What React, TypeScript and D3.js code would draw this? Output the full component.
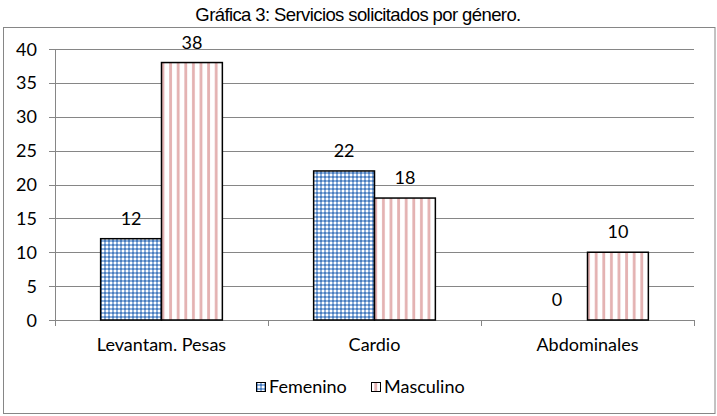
import React from "react";
import * as d3 from "d3";

const categories = ["Levantam. Pesas", "Cardio", "Abdominales"];
const seriesNames = ["Femenino", "Masculino"];
const femenino = [12, 22, 0];
const masculino = [38, 18, 10];
const yTicks = [0, 5, 10, 15, 20, 25, 30, 35, 40];
const title = "Gráfica 3: Servicios solicitados por género.";

const W = 717;
const H = 416;
const left = 55;
const right = 694;
const top = 49;
const bottom = 320;
const font = "Lato, 'Open Sans', sans-serif";
const fs = 18;

export default function App() {
  const x = d3.scaleBand<string>().domain(categories).range([left, right]).paddingInner(0).paddingOuter(0);
  const y = d3.scaleLinear().domain([0, 40]).range([bottom, top]);
  const inner = d3.scaleBand<string>().domain(seriesNames).range([0, x.bandwidth()]).paddingInner(0).paddingOuter(0.75);
  const values = [femenino, masculino];
  const fills = ["url(#checker)", "url(#stripes)"];

  return (
    <svg width={W} height={H} style={{ position: "absolute", left: 0, top: 0 }}>
      <defs>
        <pattern id="checker" width="4" height="4" patternUnits="userSpaceOnUse">
          <rect width="4" height="4" fill="#8fb0dc" />
          <rect width="2" height="2" fill="#4a7ebf" />
          <rect x="2" y="2" width="2" height="2" fill="#ffffff" />
        </pattern>
        <pattern id="stripes" width="7.6" height="8" patternUnits="userSpaceOnUse">
          <rect width="7.6" height="8" fill="#ffffff" />
          <rect x="2" width="2.8" height="8" fill="#e4b2b2" />
        </pattern>
      </defs>
      <rect x={0} y={0} width={W} height={H} fill="#fff" />
      <text x={358} y={20.5} textAnchor="middle" fontFamily="'Liberation Sans', Arial, sans-serif" fontSize={18.5} letterSpacing={-0.6} fill="#000">
        {title}
      </text>
      <rect x={3.5} y={27.5} width={711.5} height={386} fill="none" stroke="#868686" strokeWidth={1} />
      {yTicks.map((t) => (
        <g key={t}>
          <line x1={left - 6} x2={right} y1={Math.round(y(t)) + 0.5} y2={Math.round(y(t)) + 0.5} stroke="#868686" strokeWidth={1} />
          <text x={37} y={y(t) + 6.5} textAnchor="end" fontFamily={font} fontSize={fs} fill="#000">
            {t}
          </text>
        </g>
      ))}
      <line x1={left + 0.5} x2={left + 0.5} y1={top} y2={bottom + 0.5} stroke="#868686" strokeWidth={1} />
      {categories.map((c, i) => (
        <line key={"t" + i} x1={x(c)! + x.bandwidth() + 0.5} x2={x(c)! + x.bandwidth() + 0.5} y1={bottom} y2={bottom + 6} stroke="#868686" strokeWidth={1} />
      ))}
      <line x1={left + 0.5} x2={left + 0.5} y1={bottom} y2={bottom + 6} stroke="#868686" />
      {categories.map((c, i) =>
        seriesNames.map((s, j) => {
          const v = values[j][i];
          const bx = x(c)! + inner(s)!;
          const bw = inner.bandwidth();
          return (
            <g key={c + s}>
              {v > 0 && (
                <rect x={bx} y={y(v)} width={bw} height={bottom - y(v)} fill={fills[j]} stroke="#000" strokeWidth={1.5} />
              )}
              <text x={bx + bw / 2} y={y(v) - 14} textAnchor="middle" fontFamily={font} fontSize={fs} fill="#000">
                {v}
              </text>
            </g>
          );
        })
      )}
      {categories.map((c) => (
        <text key={c} x={x(c)! + x.bandwidth() / 2} y={350.5} textAnchor="middle" fontFamily={font} fontSize={fs} fill="#000">
          {c}
        </text>
      ))}
      {seriesNames.map((s, j) => {
        const lx = [256, 371][j];
        return (
          <g key={s}>
            <rect x={lx + 0.5} y={382.5} width={9} height={9} fill={fills[j]} stroke="#000" strokeWidth={1} />
            <text x={lx + 13} y={393} fontFamily={font} fontSize={fs} fill="#000">
              {s}
            </text>
          </g>
        );
      })}
    </svg>
  );
}
